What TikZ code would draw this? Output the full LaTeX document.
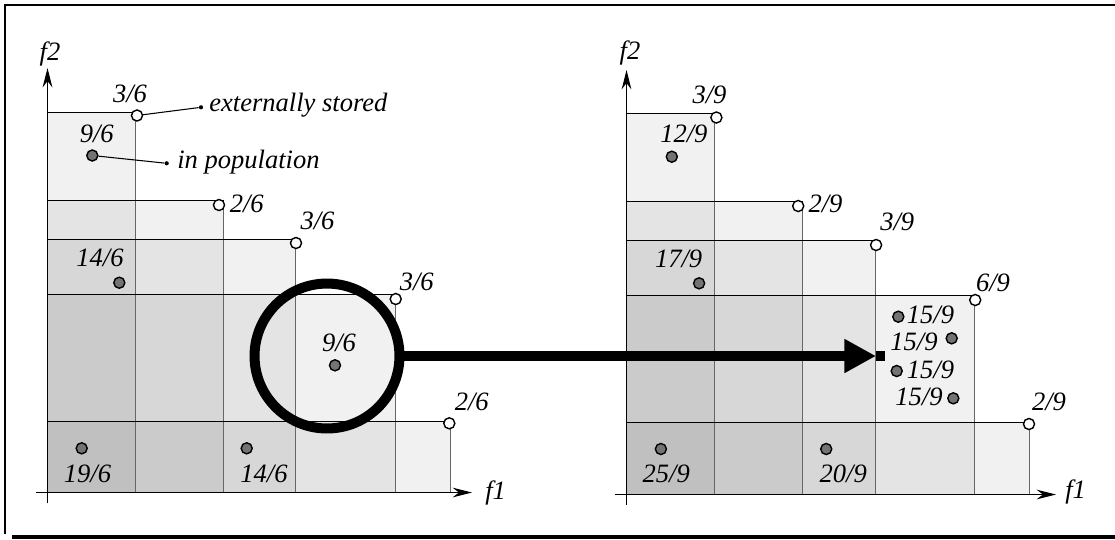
\documentclass[tikz,border=0pt]{standalone}
\usepackage{fontspec}
\setmainfont{Liberation Serif}
\usetikzlibrary{arrows.meta}
\tikzstyle{cell}=[fill=black, fill opacity=.055]
\tikzstyle{hl}=[line width=.6pt, draw=black]
\tikzstyle{vl}=[line width=.6pt, draw=black!60]
\tikzstyle{axis}=[line width=.6pt, -{Stealth[length=11pt, width=5.5pt]}]
\tikzstyle{ext}=[shape=circle, minimum size=6.3pt, inner sep=0, draw=black, line width=.8pt, fill=white]
\tikzstyle{pop}=[shape=circle, minimum size=6.3pt, inner sep=0, draw=black, line width=.8pt, fill=black!55]
\tikzstyle{tag}=[shape=circle, minimum size=2.4pt, inner sep=0, fill=black]
\tikzstyle{leader}=[line width=.6pt]
\tikzstyle{lbl}=[inner sep=0, font=\itshape\fontsize{15.1}{17}\selectfont]
\tikzstyle{zoomring}=[shape=circle, draw=black, line width=5.7pt, minimum size=82.5pt, inner sep=0]
\tikzstyle{bigarrow}=[line width=5.7pt, -{Triangle[length=18pt, width=18.2pt]}]

\begin{document}
\begin{tikzpicture}[x=.02cm, y=-.02cm]
\useasboundingbox (0,0) rectangle (1115,539);
% frame
\draw[line width=1.2pt] (1115,5) -- (5,5) -- (5,534);
\draw[line width=2.3pt] (12,537) -- (1115,537);

% left grid
\coordinate (o) at (47.5,492.5);
\coordinate (c1) at (135.5,112.5);
\coordinate (c2) at (223.5,200.5);
\coordinate (c3) at (295.5,239.5);
\coordinate (c4) at (395.5,294.5);
\coordinate (c5) at (450.5,421.5);
\fill[cell] (o) rectangle (c1);
\fill[cell] (o) rectangle (c2);
\fill[cell] (o) rectangle (c3);
\fill[cell] (o) rectangle (c4);
\fill[cell] (o) rectangle (c5);
\draw[hl] (o |- c1) -- (c1); \draw[vl] (c1) -- (c1 |- o);
\draw[hl] (o |- c2) -- (c2); \draw[vl] (c2) -- (c2 |- o);
\draw[hl] (o |- c3) -- (c3); \draw[vl] (c3) -- (c3 |- o);
\draw[hl] (o |- c4) -- (c4); \draw[vl] (c4) -- (c4 |- o);
\draw[hl] (o |- c5) -- (c5); \draw[vl] (c5) -- (c5 |- o);
\coordinate (ya) at (47.5,503); \coordinate (yb) at (47.5,68);
\coordinate (xa) at (36,492.5); \coordinate (xb) at (472,492.5);
\draw[axis] (ya) -- (yb);
\draw[axis] (xa) -- (xb);
\node at (50,54)[lbl](f2){f2};
\node at (485,493)[lbl, anchor=west](f1){f1};

% right grid
\coordinate (q) at (626.5,494.5);
\coordinate (d1) at (714.5,113.5);
\coordinate (d2) at (802.5,201.5);
\coordinate (d3) at (875.5,240.5);
\coordinate (d4) at (974.5,295.5);
\coordinate (d5) at (1029.5,422.5);
\fill[cell] (q) rectangle (d1);
\fill[cell] (q) rectangle (d2);
\fill[cell] (q) rectangle (d3);
\fill[cell] (q) rectangle (d4);
\fill[cell] (q) rectangle (d5);
\draw[hl] (q |- d1) -- (d1); \draw[vl] (d1) -- (d1 |- q);
\draw[hl] (q |- d2) -- (d2); \draw[vl] (d2) -- (d2 |- q);
\draw[hl] (q |- d3) -- (d3); \draw[vl] (d3) -- (d3 |- q);
\draw[hl] (q |- d4) -- (d4); \draw[vl] (d4) -- (d4 |- q);
\draw[hl] (q |- d5) -- (d5); \draw[vl] (d5) -- (d5 |- q);
\coordinate (ra) at (626.5,505); \coordinate (rb) at (626.5,70);
\coordinate (sa) at (614.9,494.5); \coordinate (sb) at (1056,494.5);
\draw[axis] (ra) -- (rb);
\draw[axis] (sa) -- (sb);
\node at (630,53)[lbl](g2){f2};
\node at (1065,492)[lbl, anchor=west](g1){f1};

% zoom arrow
\node at (327,356)[zoomring](zoom){};
\coordinate (tip) at (876,356);
\coordinate (stub) at (885,356);
\draw[bigarrow] (zoom) -- (tip);
\draw[line width=5.7pt] (tip) -- (stub);

% left points
\node at (137,115.5)[ext](e1){};
\node at (219,205)[ext](e2){};
\node at (296,243)[ext](e3){};
\node at (395.7,299)[ext](e4){};
\node at (449.3,423.3)[ext](e5){};
\node at (92.3,155.5)[pop](p1){};
\node at (119.3,282.7)[pop](p2){};
\node at (335,365.3)[pop](p3){};
\node at (81.7,448.3)[pop](p4){};
\node at (246.7,448.3)[pop](p5){};
\node at (130,94)[lbl]{3/6};
\node at (246.7,204)[lbl]{2/6};
\node at (317.5,221)[lbl]{3/6};
\node at (416.7,281.7)[lbl]{3/6};
\node at (471.7,401.7)[lbl]{2/6};
\node at (96.7,134)[lbl]{9/6};
\node at (100,257.5)[lbl]{14/6};
\node at (339,342.5)[lbl]{9/6};
\node at (87.5,473.5)[lbl]{19/6};
\node at (264,473.5)[lbl]{14/6};
\node at (201,107.3)[tag](t1){};
\node at (166.7,163.3)[tag](t2){};
\draw[leader] (e1) -- (t1);
\draw[leader] (p1) -- (t2);
\node at (209,111.7)[lbl, anchor=base west](s1){externally stored};
\node at (177,168.3)[lbl, anchor=base west](s2){in population};

% right points
\node at (716.4,117.5)[ext](r1){};
\node at (798.2,206)[ext](r2){};
\node at (876.1,245)[ext](r3){};
\node at (975.2,300)[ext](r4){};
\node at (1029,424)[ext](r5){};
\node at (671.8,156.7)[pop](u1){};
\node at (699.1,283.3)[pop](u2){};
\node at (660.9,449)[pop](u3){};
\node at (826.2,449)[pop](u4){};
\node at (898.3,316.7)[pop](u5){};
\node at (951.7,338.3)[pop](u6){};
\node at (896.7,371)[pop](u7){};
\node at (953.3,398.3)[pop](u8){};
\node at (709.5,94.5)[lbl]{3/9};
\node at (825.5,203.5)[lbl]{2/9};
\node at (897.2,221.5)[lbl]{3/9};
\node at (993,283)[lbl]{6/9};
\node at (1049,402)[lbl]{2/9};
\node at (683.9,133.5)[lbl]{12/9};
\node at (678.6,259)[lbl]{17/9};
\node at (666.2,474)[lbl]{25/9};
\node at (843.2,474)[lbl]{20/9};
\node at (930.5,315)[lbl]{15/9};
\node at (914,341.7)[lbl]{15/9};
\node at (930.5,370)[lbl]{15/9};
\node at (919,396.5)[lbl]{15/9};
\end{tikzpicture}
\end{document}
